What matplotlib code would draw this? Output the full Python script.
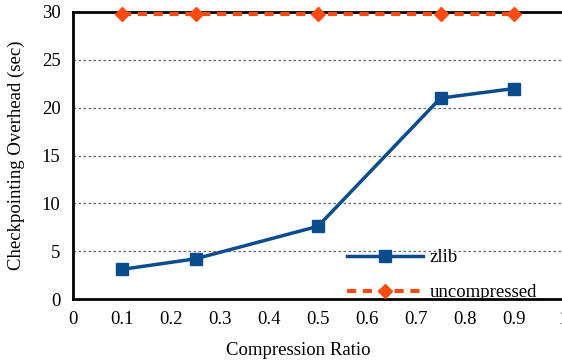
import matplotlib
matplotlib.use("Agg")
import matplotlib.pyplot as plt

ratios = [0.1, 0.25, 0.5, 0.75, 0.9]
zlib = [3.1, 4.2, 7.6, 21.0, 22.0]
uncompressed = [29.8, 29.8, 29.8, 29.8, 29.8]
xticks = [0, 0.1, 0.2, 0.3, 0.4, 0.5, 0.6, 0.7, 0.8, 0.9, 1.0]
xticklabels = ["0", "0.1", "0.2", "0.3", "0.4", "0.5", "0.6", "0.7", "0.8", "0.9", "1"]
yticks = [0, 5, 10, 15, 20, 25, 30]

plt.rcParams['font.family'] = ['Liberation Serif', 'DejaVu Serif']
plt.rcParams['font.size'] = 13.5

fig = plt.figure(figsize=(5.62, 3.6), dpi=100)
W, H = 562, 360
left, right, top, bottom = 73, 563, 12, 299
ax = fig.add_axes([left / W, 1 - bottom / H, (right - left) / W, (bottom - top) / H])

ax.plot(ratios, zlib, color='#0B4C8C', lw=2.5, marker='s', ms=9, label='zlib', zorder=3)
ax.plot(ratios, uncompressed, color='#FF4A12', lw=3, ls=(0, (2.2, 1.6)), marker='D', ms=7.5,
        label='uncompressed', zorder=3, clip_on=False)

ax.set_xlim(0, 1)
ax.set_ylim(0, 30)
ax.set_xticks(xticks)
ax.set_xticklabels(xticklabels)
ax.set_yticks(yticks)
ax.tick_params(length=0, pad=9, labelsize=13.5)
for y in yticks[1:-1]:
    ax.axhline(y, color='#666666', lw=0.9, ls=(0, (2, 2)), zorder=1)

for s in ['left', 'bottom']:
    ax.spines[s].set_linewidth(2)
ax.spines['top'].set_linewidth(2)
ax.spines['right'].set_visible(False)

ax.set_xlabel('Compression Ratio', fontsize=13.5, labelpad=10)
ax.xaxis.label.set_x((298 - left) / (right - left))
ax.set_ylabel('Checkpointing Overhead (sec)', fontsize=13.5, labelpad=12)

leg = ax.legend(loc='lower left', bbox_to_anchor=(0.559, -0.008), frameon=False,
                borderpad=0, borderaxespad=0,
                handlelength=4.05, handletextpad=0.37, labelspacing=0.95, fontsize=13.5)

fig.savefig('out.png', dpi=100)
